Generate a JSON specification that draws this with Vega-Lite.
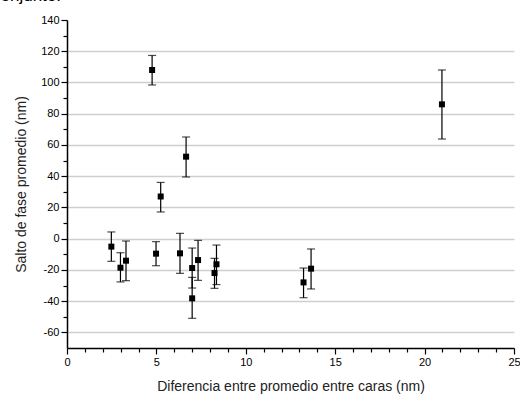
{
  "$schema": "https://vega.github.io/schema/vega-lite/v6.json",
  "autosize": "none",
  "width": 447,
  "height": 328,
  "padding": {"left": 67, "top": 20, "right": 6, "bottom": 50},
  "background": "white",
  "title": {
    "text": "conjunto.",
    "anchor": "start",
    "frame": "group",
    "font": "Liberation Sans",
    "fontSize": 17,
    "fontWeight": "normal",
    "color": "black",
    "baseline": "alphabetic",
    "dx": -75,
    "dy": 10,
    "offset": 6
  },
  "config": {
    "view": {"stroke": null},
    "font": "Liberation Sans",
    "axis": {
      "labelFont": "Liberation Sans",
      "titleFont": "Liberation Sans",
      "labelFontSize": 11,
      "titleFontSize": 14,
      "titleFontWeight": "normal",
      "labelColor": "black",
      "titleColor": "#222222",
      "domainColor": "black",
      "domainWidth": 1.5,
      "tickColor": "black",
      "tickWidth": 1.2,
      "labelOverlap": false,
      "labelBound": false,
      "labelFlush": false
    }
  },
  "data": {
    "values": [
      {"x": 2.48, "y": -5.1, "lo": -14.5, "hi": 4.3},
      {"x": 2.99, "y": -18.6, "lo": -27.7, "hi": -9},
      {"x": 3.3, "y": -14.1, "lo": -26.9, "hi": -1.5},
      {"x": 4.76, "y": 108, "lo": 98.4, "hi": 117.3},
      {"x": 4.98, "y": -9.6, "lo": -17.3, "hi": -1.9},
      {"x": 5.24, "y": 27, "lo": 17.1, "hi": 36.0},
      {"x": 6.32, "y": -9.4, "lo": -22.2, "hi": 3.4},
      {"x": 6.66, "y": 52.5, "lo": 39.5, "hi": 65.1},
      {"x": 7.0, "y": -18.8, "lo": -31.6, "hi": -6},
      {"x": 7.0, "y": -38.2, "lo": -51, "hi": -24.8},
      {"x": 7.33, "y": -13.7, "lo": -26.7, "hi": -1.1},
      {"x": 8.25, "y": -22, "lo": -31.8, "hi": -12.6},
      {"x": 8.36, "y": -16.4, "lo": -29.4, "hi": -4.1},
      {"x": 13.23, "y": -28, "lo": -37.8, "hi": -18.8},
      {"x": 13.65, "y": -19.2, "lo": -32.2, "hi": -6.6},
      {"x": 20.97, "y": 86, "lo": 63.8, "hi": 108}
    ]
  },
  "encoding": {
    "x": {
      "field": "x", "type": "quantitative",
      "scale": {"domain": [0, 25], "nice": false, "zero": false},
      "axis": {
        "title": "Diferencia entre promedio entre caras (nm)",
        "values": [0,1,2,3,4,5,6,7,8,9,10,11,12,13,14,15,16,17,18,19,20,21,22,23,24,25],
        "labelExpr": "datum.value % 5 === 0 ? datum.label : ''",
        "tickSize": {"condition": {"test": "datum.value % 5 === 0", "value": 6}, "value": 4},
        "grid": false,
        "labelPadding": 2,
        "titlePadding": 12
      }
    }
  },
  "layer": [
    {
      "mark": {"type": "errorbar", "ticks": {"size": 8, "thickness": 1.2, "color": "black"}, "rule": {"strokeWidth": 1.2, "color": "black"}},
      "encoding": {
        "y": {
          "field": "lo", "type": "quantitative",
          "scale": {"domain": [-70, 140], "nice": false, "zero": false},
          "axis": {
            "title": "Salto de fase promedio (nm)",
            "values": [-60,-50,-40,-30,-20,-10,0,10,20,30,40,50,60,70,80,90,100,110,120,130,140],
            "labelExpr": "datum.value % 20 === 0 ? replace(datum.label, '\u2212', '-') : ''",
            "tickSize": {"condition": {"test": "datum.value % 20 === 0", "value": 6}, "value": 4},
            "grid": true,
            "gridColor": "#cfcfcf",
            "gridWidth": 1.5,
            "gridOpacity": {"condition": {"test": "datum.value % 20 === 0 && datum.value !== 140", "value": 1}, "value": 0},
            "labelPadding": 2,
            "titlePadding": 12
          }
        },
        "y2": {"field": "hi"}
      }
    },
    {
      "mark": {"type": "point", "shape": "square", "filled": true, "color": "black", "size": 36, "opacity": 1},
      "encoding": {
        "y": {
          "field": "y", "type": "quantitative",
          "scale": {"domain": [-70, 140], "nice": false, "zero": false},
          "axis": {
            "title": "Salto de fase promedio (nm)",
            "values": [-60,-50,-40,-30,-20,-10,0,10,20,30,40,50,60,70,80,90,100,110,120,130,140],
            "labelExpr": "datum.value % 20 === 0 ? replace(datum.label, '\u2212', '-') : ''",
            "tickSize": {"condition": {"test": "datum.value % 20 === 0", "value": 6}, "value": 4},
            "grid": true,
            "gridColor": "#cfcfcf",
            "gridWidth": 1.5,
            "gridOpacity": {"condition": {"test": "datum.value % 20 === 0 && datum.value !== 140", "value": 1}, "value": 0},
            "labelPadding": 2,
            "titlePadding": 12
          }
        }
      }
    }
  ]
}
